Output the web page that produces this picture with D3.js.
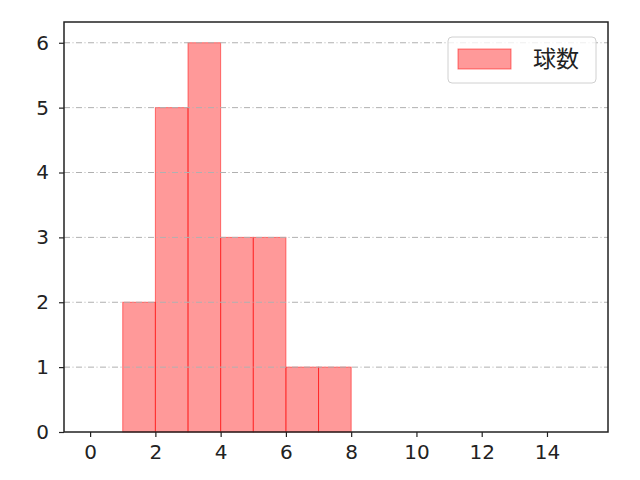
<!DOCTYPE html>
<html lang="ja">
<head>
<meta charset="utf-8">
<script src="https://d3js.org/d3.v7.min.js"></script>
<style>
  body { margin: 0; background: #fff; }
  text { font-family: "Noto Sans CJK JP", "DejaVu Sans", sans-serif; }
</style>
</head>
<body>
<script>
// histogram bins and counts
var binStarts = [1, 2, 3, 4, 5, 6, 7];
var binWidth = 1;
var counts = [2, 5, 6, 3, 3, 1, 1];
var xTicks = [0, 2, 4, 6, 8, 10, 12, 14];
var yTicks = [0, 1, 2, 3, 4, 5, 6];
var seriesName = "球数";

var w = 640, h = 480;
var margin = {left: 64, right: 32, top: 22, bottom: 48};

var svg = d3.select("body").append("svg")
    .attr("width", w).attr("height", h);

var x = d3.scaleLinear().domain([-0.8, 15.87]).range([margin.left, w - margin.right]);
var y = d3.scaleLinear().domain([0, 6.32]).range([h - margin.bottom, margin.top]);

// bars
svg.append("g").selectAll("rect")
    .data(binStarts)
    .enter().append("rect")
    .attr("x", function (d) { return x(d); })
    .attr("y", function (d, i) { return y(counts[i]); })
    .attr("width", function (d) { return x(d + binWidth) - x(d); })
    .attr("height", function (d, i) { return y(0) - y(counts[i]); })
    .attr("fill", "#ff0000").attr("fill-opacity", 0.4)
    .attr("stroke", "#ff0000").attr("stroke-opacity", 0.5).attr("stroke-width", 1);

// grid
svg.append("g").selectAll("line")
    .data(yTicks.slice(1))
    .enter().append("line")
    .attr("x1", margin.left).attr("x2", w - margin.right)
    .attr("y1", function (d) { return y(d); })
    .attr("y2", function (d) { return y(d); })
    .attr("stroke", "#b0b0b0").attr("stroke-width", 1)
    .attr("stroke-dasharray", "6,2.5,1,2.5");

// axes
var xAxis = svg.append("g")
    .attr("transform", "translate(0," + (h - margin.bottom) + ")")
    .call(d3.axisBottom(x).tickValues(xTicks).tickSize(5).tickPadding(8).tickFormat(d3.format("d")));
var yAxis = svg.append("g")
    .attr("transform", "translate(" + margin.left + ",0)")
    .call(d3.axisLeft(y).tickValues(yTicks).tickSize(5).tickPadding(10).tickFormat(d3.format("d")));

[xAxis, yAxis].forEach(function (a) {
    a.attr("font-size", 20).attr("font-family", "DejaVu Sans, sans-serif");
    a.select(".domain").remove();
    a.selectAll(".tick line").attr("stroke", "#222").attr("stroke-width", 1.2);
    a.selectAll(".tick text").attr("fill", "#222")
        .attr("font-size", 20).style("font-family", "DejaVu Sans, sans-serif");
});

// frame
svg.append("rect")
    .attr("x", margin.left).attr("y", margin.top)
    .attr("width", w - margin.left - margin.right)
    .attr("height", h - margin.top - margin.bottom)
    .attr("fill", "none").attr("stroke", "#222").attr("stroke-width", 1.5);

// legend
var lg = svg.append("g").attr("transform", "translate(448,37)");
lg.append("rect").attr("width", 148).attr("height", 46).attr("rx", 4)
    .attr("fill", "#fff").attr("fill-opacity", 0.8)
    .attr("stroke", "#d0d0d0").attr("stroke-width", 1);
lg.append("rect").attr("x", 10).attr("y", 12).attr("width", 53).attr("height", 20)
    .attr("fill", "#ff0000").attr("fill-opacity", 0.4)
    .attr("stroke", "#ff0000").attr("stroke-opacity", 0.5);
lg.append("text").attr("x", 85).attr("y", 30)
    .attr("font-size", 23).attr("fill", "#222").text(seriesName);
</script>
</body>
</html>
